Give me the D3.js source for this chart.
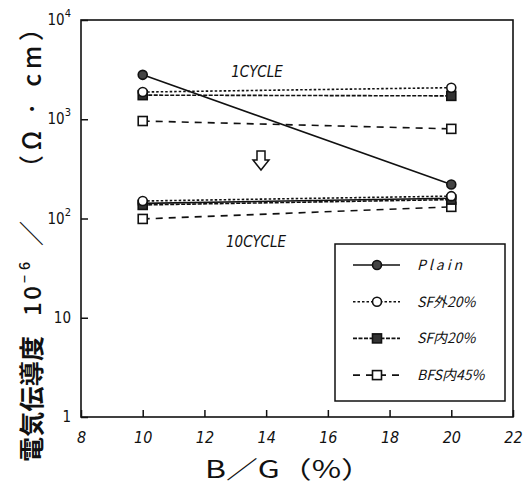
<!DOCTYPE html>
<html>
<head>
<meta charset="utf-8">
<script src="https://cdn.jsdelivr.net/npm/d3@7"></script>
<style>
  html, body { margin: 0; padding: 0; background: #fff; }
  svg { display: block; }
</style>
</head>
<body>
<script>
// B/G ratio (%) on the x axis
const bgRatio = [10, 20];
const xTicks = [8, 10, 12, 14, 16, 18, 20, 22];
const yTicks = [1, 10, 100, 1000, 10000];

// Conductivity after 1 cycle
const plain1 = [2800, 220];
const sfOut1 = [1880, 2080];
const sfIn1 = [1750, 1720];
const bfs1 = [960, 800];

// Conductivity after 10 cycles
const plain10 = [142, 160];
const sfOut10 = [150, 168];
const sfIn10 = [137, 155];
const bfs10 = [99, 131];

const seriesNames = ["Plain", "SF外20%", "SF内20%", "BFS内45%"];

const W = 524, H = 493;
const svg = d3.select("body").append("svg").attr("width", W).attr("height", H);

const x = d3.scaleLinear().domain([8, 22]).range([81, 513]);
const y = d3.scaleLog().domain([1, 10000]).range([417, 20]);

const ink = "#111";
const tickFont = "'Liberation Sans Narrow', 'DejaVu Sans Condensed', sans-serif";
const jpFont = "'Noto Sans CJK JP', sans-serif";

// frame
svg.append("rect").attr("x", 81).attr("y", 20).attr("width", 432).attr("height", 397)
  .attr("fill", "none").attr("stroke", ink).attr("stroke-width", 1.6);

// x axis, ticks pointing inward
const xAxis = d3.axisBottom(x).tickValues(xTicks).tickSizeInner(-7).tickSizeOuter(0).tickPadding(12);
const gx = svg.append("g").attr("transform", "translate(0,417)").call(xAxis);
gx.select(".domain").remove();
gx.selectAll("line").attr("stroke", ink).attr("stroke-width", 1.5);
gx.selectAll("text").attr("font-family", tickFont).attr("font-style", "italic")
  .attr("font-size", 16).attr("fill", ink).attr("dy", "0.9em");

// y axis, ticks pointing inward, labels as powers of ten
const yAxis = d3.axisLeft(y).tickValues(yTicks).tickSizeInner(-7).tickSizeOuter(0).tickFormat("");
const gy = svg.append("g").attr("transform", "translate(81,0)").call(yAxis);
gy.select(".domain").remove();
gy.selectAll("line").attr("stroke", ink).attr("stroke-width", 1.5);

const yLab = svg.append("g");
yTicks.forEach(v => {
  const e = Math.round(Math.log10(v));
  const t = yLab.append("text").attr("x", 71).attr("y", y(v) + 5)
    .attr("text-anchor", "end").attr("font-family", tickFont)
    .attr("font-size", 15).attr("fill", ink);
  if (e === 0) t.text("1");
  else if (e === 1) t.text("10");
  else {
    t.append("tspan").text("10");
    t.append("tspan").attr("font-size", 11).attr("dy", -8).text(String(e));
  }
});

// x axis title
svg.append("text").attr("x", 289).attr("y", 478).attr("text-anchor", "middle")
  .attr("font-family", jpFont).attr("font-size", 24)
  .attr("fill", ink).attr("textLength", 168).attr("lengthAdjust", "spacingAndGlyphs")
  .text("B／G（%）");

// y axis title, set in rotated pieces along the left edge
const yTitle = svg.append("g").attr("transform", "translate(41,0) rotate(-90)");
function titlePart(str, from, to, size, weight, dyShift) {
  yTitle.append("text").attr("x", -from).attr("y", dyShift || 0)
    .attr("font-family", jpFont).attr("font-size", size).attr("font-weight", weight)
    .attr("fill", ink).attr("textLength", from - to).attr("lengthAdjust", "spacing")
    .text(str);
}
titlePart("電気伝導度", 462, 336, 25, "bold");
titlePart("10", 316, 286, 24, 500);
titlePart("−6", 283, 262, 14, 500, -11);
titlePart("／", 246, 192, 25, 500);
titlePart("（Ω · cm）", 180, 16, 25, 500);

// series styles
const styles = [
  { dash: null, marker: "circle", fill: "#444" },
  { dash: "2.5,2", marker: "circle", fill: "#fff" },
  { dash: "4,1.5", marker: "square", fill: "#333" },
  { dash: "7,6", marker: "square", fill: "#fff" }
];

const line = d3.line().x((d, i) => x(bgRatio[i])).y(d => y(d));

function drawMarker(g, kind, fill, cx, cy) {
  if (kind === "circle") {
    g.append("circle").attr("cx", cx).attr("cy", cy).attr("r", 4.5)
      .attr("fill", fill).attr("stroke", ink).attr("stroke-width", 1.6);
  } else {
    g.append("rect").attr("x", cx - 4.5).attr("y", cy - 4.5).attr("width", 9).attr("height", 9)
      .attr("fill", fill).attr("stroke", ink).attr("stroke-width", 1.6);
  }
}

function drawSeries(vals, s) {
  const g = svg.append("g");
  g.append("path").attr("d", line(vals)).attr("fill", "none").attr("stroke", ink)
    .attr("stroke-width", 1.6).attr("stroke-dasharray", s.dash);
  vals.forEach((v, i) => drawMarker(g, s.marker, s.fill, x(bgRatio[i]), y(v)));
}

const oneCycle = [plain1, sfOut1, sfIn1, bfs1];
const tenCycle = [plain10, sfOut10, sfIn10, bfs10];
[3, 0, 2, 1].forEach(k => drawSeries(tenCycle[k], styles[k]));
[3, 0, 2, 1].forEach(k => drawSeries(oneCycle[k], styles[k]));

// cycle annotations
const noteFont = "'Liberation Sans Narrow', 'DejaVu Sans Condensed', sans-serif";
svg.append("text").attr("x", 257).attr("y", 77).attr("text-anchor", "middle")
  .attr("font-family", noteFont).attr("font-style", "italic").attr("font-size", 15)
  .attr("fill", ink).text("1CYCLE");
svg.append("text").attr("x", 256).attr("y", 247).attr("text-anchor", "middle")
  .attr("font-family", noteFont).attr("font-style", "italic").attr("font-size", 15)
  .attr("fill", ink).text("10CYCLE");

// hollow downward arrow between the two groups
const ax = 261, ay = 151;
svg.append("path")
  .attr("d", `M${ax - 4},${ay} L${ax + 4},${ay} L${ax + 4},${ay + 9} L${ax + 8},${ay + 9} L${ax},${ay + 19} L${ax - 8},${ay + 9} L${ax - 4},${ay + 9} Z`)
  .attr("fill", "#fff").attr("stroke", ink).attr("stroke-width", 1.5);

// legend
const lg = svg.append("g");
lg.append("rect").attr("x", 335).attr("y", 244).attr("width", 170).attr("height", 157)
  .attr("fill", "#fff").attr("stroke", ink).attr("stroke-width", 1.5);
seriesNames.forEach((name, i) => {
  const ly = 265 + i * 36.7;
  const s = styles[i];
  lg.append("line").attr("x1", 353).attr("x2", 400).attr("y1", ly).attr("y2", ly)
    .attr("stroke", ink).attr("stroke-width", 1.6).attr("stroke-dasharray", s.dash);
  drawMarker(lg, s.marker, s.fill, 377, ly);
  lg.append("text").attr("x", 417).attr("y", ly + 5)
    .attr("font-family", jpFont).attr("font-style", "italic")
    .attr("font-size", 14).attr("fill", ink)
    .attr("letter-spacing", i === 0 ? 3 : 0)
    .text(name);
});
</script>
</body>
</html>
